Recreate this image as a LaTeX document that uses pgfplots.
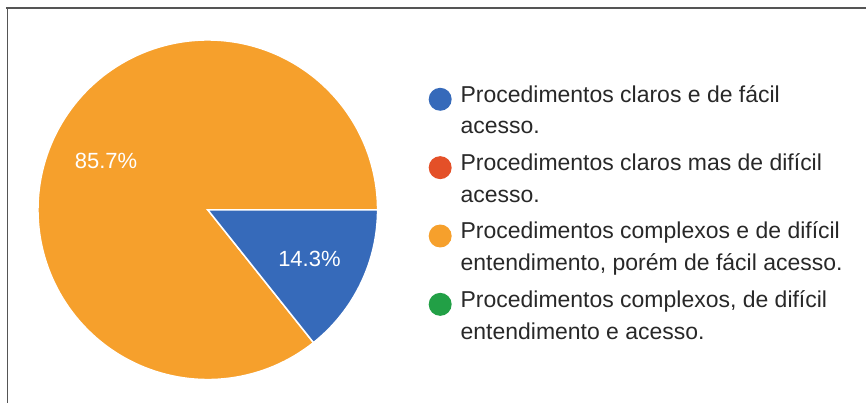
\documentclass[border=0pt]{standalone}
\usepackage{pgfplots}
\pgfplotsset{compat=1.18}
\usepackage{fontspec}
\setmainfont{Liberation Sans}
\definecolor{cblue}{RGB}{54,106,186}
\definecolor{cred}{RGB}{228,80,40}
\definecolor{corange}{RGB}{246,160,44}
\definecolor{cgreen}{RGB}{34,160,70}
\definecolor{ctext}{RGB}{40,40,40}
\definecolor{cframe}{RGB}{85,85,85}
% data (percent)
\def\vBlue{14.3}
\def\vRed{0}
\def\vOrange{85.7}
\def\vGreen{0}
\def\cx{208}\def\cy{193}\def\rr{170}
\pgfmathsetmacro{\aB}{-3.6*\vBlue}
\pgfmathsetmacro{\aO}{3.6*\vOrange}
\pgfmathsetmacro{\mB}{\aB/2}
\pgfmathsetmacro{\mO}{\aO/2}
\newcommand{\legcircle}[1]{\path[draw=none,fill=none] (-11.5bp,0bp) -- (20.5bp,0bp);\fill[#1,draw=none] (0bp,11bp) circle (11.5bp);}
\begin{document}
\begin{tikzpicture}
\begin{axis}[x=1bp,y=1bp,xmin=0,xmax=867,ymin=0,ymax=403,hide axis,clip=false,
  legend style={at={(axis cs:426,320)},anchor=north west,draw=none,fill=none,
    font=\fontsize{23bp}{32bp}\selectfont, text=ctext,
    nodes={align=left, inner sep=0pt}, row sep=18bp},
  legend cell align=left]
\path (axis cs:0,0) rectangle (axis cs:867,403);
\addplot[forget plot, fill=corange, draw=white, line width=1.5bp, domain=0:\aO, samples=160, variable=\t]
  ({\cx+\rr*cos(\t)},{\cy+\rr*sin(\t)}) -- (\cx,\cy) -- cycle;
\addplot[forget plot, fill=cblue, draw=white, line width=1.5bp, domain=\aB:0, samples=40, variable=\t]
  ({\cx+\rr*cos(\t)},{\cy+\rr*sin(\t)}) -- (\cx,\cy) -- cycle;
\node[text=white, font=\fontsize{22bp}{26bp}\selectfont] at (axis cs:{\cx+113*cos(\mB)},{\cy+113*sin(\mB)}) {\vBlue\%};
\node[text=white, font=\fontsize{22bp}{26bp}\selectfont] at (axis cs:{\cx+113*cos(\mO)},{\cy+113*sin(\mO)}) {\vOrange\%};
\draw[cframe, line width=2bp] (axis cs:6.5,395) -- (axis cs:867,395);
\draw[cframe, line width=1.5bp] (axis cs:7.3,395) -- (axis cs:7.3,0);
\addlegendimage{legend image code/.code={\legcircle{cblue}}}
\addlegendentry{Procedimentos claros e de fácil\\acesso.}
\addlegendimage{legend image code/.code={\legcircle{cred}}}
\addlegendentry{Procedimentos claros mas de difícil\\acesso.}
\addlegendimage{legend image code/.code={\legcircle{corange}}}
\addlegendentry{Procedimentos complexos e de difícil\\entendimento, porém de fácil acesso.}
\addlegendimage{legend image code/.code={\legcircle{cgreen}}}
\addlegendentry{Procedimentos complexos, de difícil\\entendimento e acesso.}
\end{axis}
\end{tikzpicture}
\end{document}
